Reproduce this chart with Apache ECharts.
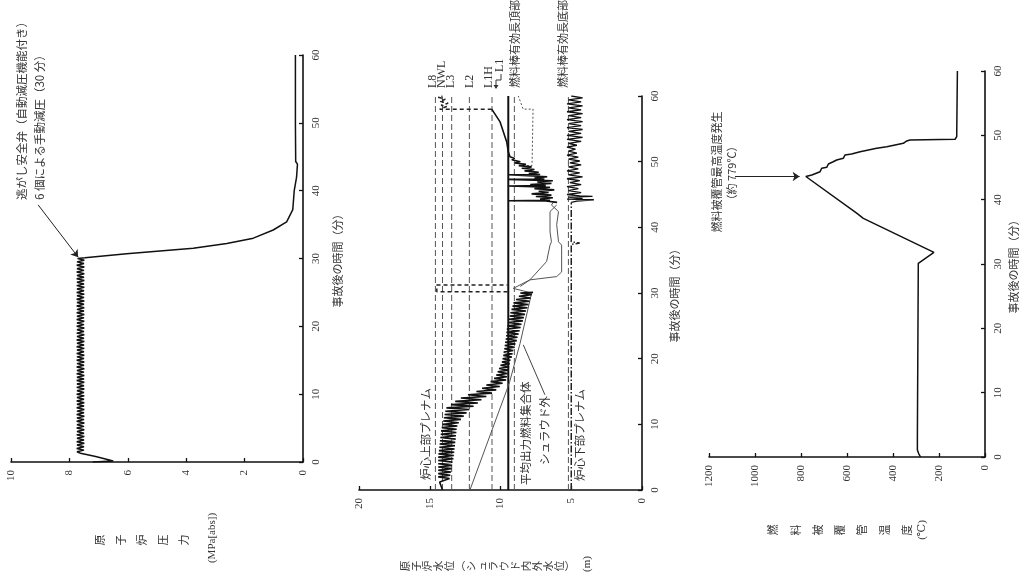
<!DOCTYPE html>
<html><head><meta charset="utf-8">
<script src="https://cdn.jsdelivr.net/npm/echarts/dist/echarts.min.js"></script>
<style>html,body{margin:0;padding:0;background:#fff}#c{width:1020px;height:584px}</style>
</head><body><div id="c"></div>
<script>
// ---------- data ----------
const timeRange = [0, 60];
const timeInterval = 10;
const pressureRange = [0, 10], pressureInterval = 2;
const levelRange = [0, 20], levelInterval = 5;
const tempRange = [0, 1200], tempInterval = 200;

// reactor pressure [time(min), MPa abs]
const pressure = [[0,7.2],[0.15,6.5],[0.35,6.55],[0.8,7.1],[1.3,7.62],
[1.5,7.74],[1.75,7.5],[2.0,7.75],[2.25,7.5],[2.5,7.74],[2.75,7.49],[3.0,7.75],[3.25,7.5],[3.5,7.74],[3.75,7.49],[4.0,7.75],[4.25,7.5],[4.5,7.74],[4.75,7.49],[5.0,7.75],[5.25,7.5],[5.5,7.74],[5.75,7.49],[6.0,7.75],[6.25,7.5],[6.5,7.74],[6.75,7.49],[7.0,7.75],[7.25,7.5],[7.5,7.74],[7.75,7.49],[8.0,7.75],[8.25,7.5],[8.5,7.74],[8.75,7.49],[9.0,7.75],[9.25,7.5],[9.5,7.74],[9.75,7.49],[10.0,7.75],[10.25,7.5],[10.5,7.74],[10.75,7.49],[11.0,7.75],[11.25,7.5],[11.5,7.74],[11.75,7.49],[12.0,7.75],[12.25,7.5],[12.5,7.74],[12.75,7.49],[13.0,7.75],[13.25,7.5],[13.5,7.74],[13.75,7.49],[14.0,7.75],[14.25,7.5],[14.5,7.74],[14.75,7.49],[15.0,7.75],[15.25,7.5],[15.5,7.74],[15.75,7.49],[16.0,7.75],[16.25,7.5],[16.5,7.74],[16.75,7.49],[17.0,7.75],[17.25,7.5],[17.5,7.74],[17.75,7.49],[18.0,7.75],[18.25,7.5],[18.5,7.74],[18.75,7.49],[19.0,7.75],[19.25,7.5],[19.5,7.74],[19.75,7.49],[20.0,7.75],[20.25,7.5],[20.5,7.74],[20.75,7.49],[21.0,7.75],[21.25,7.5],[21.5,7.74],[21.75,7.49],[22.0,7.75],[22.25,7.5],[22.5,7.74],[22.75,7.49],[23.0,7.75],[23.25,7.5],[23.5,7.74],[23.75,7.49],[24.0,7.75],[24.25,7.5],[24.5,7.74],[24.75,7.49],[25.0,7.75],[25.25,7.5],[25.5,7.74],[25.75,7.49],[26.0,7.75],[26.25,7.5],[26.5,7.74],[26.75,7.49],[27.0,7.75],[27.25,7.5],[27.5,7.74],[27.75,7.49],[28.0,7.75],[28.25,7.5],[28.5,7.74],[28.75,7.49],[29.0,7.75],[29.25,7.5],[29.5,7.74],[29.75,7.49],[30.0,7.72],
[30.1,7.47],[30.7,6.04],[31.1,4.9],[31.5,3.76],[32.2,2.61],[33.0,1.7],[34.2,1.02],[35.4,0.56],[37.2,0.35],[40.0,0.3],[42.0,0.22],[43.9,0.19],[44.3,0.25],[50,0.26],[55,0.26],[60,0.26]];

// water level, in-shroud (thick black) [time, m]
const levelInShroud = [[0,14.1],[0.6,14.2],[1.2,14.3],
[1.5,14.35],[1.75,13.6],[2.0,14.4],[2.25,13.55],[2.5,14.4],[2.75,13.5],[3.0,14.4],[3.25,13.45],[3.5,14.4],[3.75,13.42],[4.0,14.4],[4.25,13.4],[4.5,14.4],[4.75,13.33],[5.0,14.4],[5.25,13.3],[5.5,14.38],[5.75,13.27],[6.0,14.35],[6.25,13.25],[6.5,14.32],[6.75,13.22],[7.0,14.3],[7.25,13.2],[7.5,14.28],[7.75,13.17],[8.0,14.25],[8.25,13.15],[8.5,14.22],[8.75,13.12],[9.0,14.2],[9.25,13.1],[9.5,14.15],[9.75,13.05],[10.0,14.1],[10.25,12.95],[10.5,14.05],[10.75,12.8],[11.0,14.0],[11.25,12.6],[11.5,13.95],[11.75,12.4],[12.0,13.9],[12.25,12.2],[12.5,13.82],[12.75,11.9],[13.0,13.5],[13.25,11.6],[13.5,13.2],[13.75,11.35],[14.0,12.8],[14.25,11.0],[14.5,12.3],[14.75,10.6],[15.0,11.7],[15.25,10.3],[15.5,11.3],[15.75,10.05],[16.0,11.0],[16.25,9.85],[16.5,10.7],[16.75,9.6],[17.0,10.45],[17.25,9.55],[17.5,10.3],[17.75,9.5],[18.0,10.2],[18.25,9.45],[18.5,10.1],[18.75,9.4],[19.0,10.0],[19.25,9.35],[19.5,9.9],[19.75,9.3],[20.0,9.85],[20.25,9.2],[20.5,9.8],[20.75,9.15],[21.0,9.77],[21.25,9.1],[21.5,9.73],[21.75,9.0],[22.0,9.7],[22.25,8.95],[22.5,9.67],[22.75,8.85],[23.0,9.63],[23.25,8.8],[23.5,9.6],[23.75,8.72],[24.0,9.58],[24.25,8.65],[24.5,9.55],[24.75,8.58],[25.0,9.5],[25.25,8.52],[25.5,9.45],[25.75,8.42],[26.0,9.4],[26.25,8.35],[26.5,9.35],[26.75,8.27],[27.0,9.3],[27.25,8.2],[27.5,9.22],[27.75,8.1],[28.0,9.15],[28.25,8.02],[28.5,9.08],[28.75,7.95],[29.0,8.9],[29.25,7.88],[29.5,8.7],[29.75,7.8],[30.0,8.6],[30.1,7.7],
null,
[43.8,6.0],[44.0,6.8],[44.05,9.45],[44.1,6.5],[44.3,7.2],[44.5,6.3],[44.7,7.5],[44.9,6.4],[45.1,7.8],[45.3,6.6],[45.5,7.3],[45.7,6.2],[45.9,7.6],[46.1,6.5],[46.3,9.45],[46.35,6.8],[46.5,7.9],[46.7,6.4],[46.9,7.4],[47.1,6.3],[47.3,9.45],[47.35,6.9],[47.5,7.6],[47.7,6.7],[48.0,9.45],[48.05,7.2],[48.2,8.0],[48.4,7.3],[48.6,8.3],[48.8,7.6],[49.0,8.5],[49.2,7.8],[49.4,8.7],[49.6,8.2],[49.8,9.0],[50.0,8.6],[50.3,9.2],[50.5,9.0],[50.75,9.33],[51.5,9.45],[53,9.56],[56.1,10.04],[58,10.62]];

// average-power fuel assembly / shroud outside (thin grey)
const levelAssembly = [[0,14.1],[0.05,12.15],[15.2,9.56],[16.5,9.35]];
const levelShroudOut = [[16.5,9.35],[22.3,8.62],[30,7.8],[30.7,9.1],[32.0,7.92],[32.5,6.03],[33.2,5.68],[37.3,5.68],[37.8,5.9],[40.4,6.03],[42.4,5.9],[43.4,6.4],[44,6.2]];
const levelInner = [[31.0,8.6],[32.0,7.92],[34.8,6.74],[37.3,6.5],[37.8,6.4],[39.3,6.5],[42.4,6.5],[43.4,6.03]];
const levelLate = [[49.4,8.7],[49.4,7.77],[58,7.7],[58,8.4],[60,8.74]];

// wide-range indication (dashed)
const levelWide = [[30.2,9.5],[30.2,14.5],[31.2,14.5],[31.2,9.5],null,[58.0,10.62],[58.0,14.3],[58.1,14.3],[58.4,13.8],[58.6,14.2],[58.9,13.7],[59.2,14.3],[59.5,13.9],[59.8,14.4],[60,14.1]];

// lower plenum
const levelLowerPlenum = [[0,5.0],[37.4,5.0],[37.6,4.4],[37.8,5.0],[43.8,5.0]];
const levelLowerPlenumBoil = [[43.8,5.0],[44.0,4.6],[44.2,3.4],[44.3,5.3],[44.4,4.2],[44.6,5.2],[44.7,3.5],[44.8,4.4],[45.0,5.3],[45.3,4.3],[45.6,5.2],[45.9,4.5],[46.2,5.3],[46.5,4.3],[46.8,5.1],[47.1,4.4],[47.4,5.3],[47.7,4.2],[48.0,5.2],[48.3,4.4],[48.6,5.3],[48.9,4.5],[49.2,5.2],[49.5,4.3],[49.8,5.1],[50.1,4.4],[50.4,5.2],[50.7,4.5],[51.0,5.3],[51.3,4.6],[51.6,5.2],[51.9,4.7],[52.2,5.3],[52.5,4.6],[52.8,5.2],[53.1,4.3],[53.4,5.3],[53.7,4.2],[54.0,5.3],[54.3,4.3],[54.6,5.2],[54.9,4.2],[55.2,5.3],[55.5,4.3],[55.8,5.2],[56.1,4.2],[56.4,5.3],[56.7,4.3],[57.0,5.2],[57.3,4.2],[57.6,5.3],[57.9,4.3],[58.2,5.2],[58.5,4.2],[58.8,5.3],[59.1,4.3],[59.4,5.2],[59.7,4.2],[60,5.0]];

// reference levels [name, m, style]
const refNames  = ['L8','NWL','L3','L2','L1H','TAF','L1','BAF'];
const refLevels = [14.6, 14.1, 13.45, 12.2, 10.6, 9.45, 9.02, 5.2];
const refSolid  = [false,false,false,false,false,true,false,false];

// fuel cladding temperature [time, degC]
const cladTemp = [[0,280],[0.5,288],[1.1,294],[3.0,294],[3.2,291],[30.1,290],[31.8,222],[37.1,529],[37.9,558],[43.6,779],[43.84,753],[44.35,717],[44.88,710],[45.03,688],[45.55,681],[45.9,660],[46.17,645],[46.43,616],[46.95,609],[47.1,580],[47.46,543],[47.72,507],[47.98,471],[48.24,427],[48.5,391],[48.76,355],[49.12,340],[49.28,326],[49.39,130],[49.8,123],[60,120]];

// annotations
const srvNote = ['逃がし安全弁（自動減圧機能付き）','6 個による手動減圧（30 分）'];
const peakNote = ['燃料被覆管最高温度発生','（約 779℃）'];

// ---------- chart ----------
const JP = '"Noto Sans CJK JP", sans-serif';
const NUM = '"Liberation Serif", "DejaVu Serif", serif';
const TXT = '#333';

function valueAxis(gi, r, iv) {
  return {gridIndex: gi, type: 'value', min: r[0], max: r[1], interval: iv, inverse: true, position: 'bottom',
    axisLine: {show: true, onZero: false, lineStyle: {color: '#111', width: 1.6}},
    axisTick: {show: true, inside: true, length: 4, lineStyle: {color: '#111', width: 1.3}},
    axisLabel: {rotate: 90, margin: 8, color: TXT, fontFamily: NUM, fontSize: 11, formatter: v => String(v)},
    splitLine: {show: false}};
}
function timeAxis(gi) {
  return {gridIndex: gi, type: 'value', min: timeRange[0], max: timeRange[1], interval: timeInterval, position: 'right',
    axisLine: {show: true, onZero: false, lineStyle: {color: '#111', width: 1.6}},
    axisTick: {show: true, inside: true, length: 4, lineStyle: {color: '#111', width: 1.3}},
    axisLabel: {rotate: 90, margin: 8, color: TXT, fontFamily: NUM, fontSize: 11, formatter: v => String(v)},
    splitLine: {show: false}};
}
function line(gi, data, style, extra) {
  return Object.assign({type: 'line', xAxisIndex: gi, yAxisIndex: gi, data: data, showSymbol: false,
    symbol: 'none', connectNulls: false, silent: true, animation: false,
    lineStyle: Object.assign({color: '#111', width: 1.5}, style)}, extra || {});
}
function rtext(x, y, text, size, font, align, extra) {
  return Object.assign({type: 'text', x: x, y: y, rotation: Math.PI / 2, silent: true,
    style: {text: text, fill: TXT, font: size + 'px ' + font, align: align || 'center', verticalAlign: 'middle'}}, extra || {});
}
function stack(x, y, chars, gap, size) {
  return {type: 'text', x: x, y: y, rotation: Math.PI / 2, silent: true,
    style: {text: chars.join('\n'), fill: TXT, font: size + 'px ' + JP, lineHeight: gap, align: 'center', verticalAlign: 'middle'}};
}

const series = [];
// chart 1
series.push(line(0, pressure.map(d => [d[1], d[0]]), {width: 1.5}, {
  markLine: {silent: true, symbol: ['none', 'arrow'], symbolSize: 7, label: {show: false},
    lineStyle: {color: '#222', width: 1, type: 'solid'},
    data: [[{coord: [9.07, 37.9]}, {coord: [7.7, 30.2]}]]}}));
// chart 2 reference lines
refLevels.forEach((v, i) => {
  series.push(line(1, [[v, timeRange[0]], [v, timeRange[1]]],
    refSolid[i] ? {color: '#111', width: 2} : {color: '#555', width: 1, type: [6, 3]}));
});
const xy = a => a.map(d => d ? [d[1], d[0]] : [null, null]);
series.push(line(1, xy(levelLowerPlenum), {color: '#222', width: 1.5, type: [7, 2, 1.5, 2]}));
series.push(line(1, xy(levelLowerPlenumBoil), {color: '#111', width: 1.3}));
series.push(line(1, xy(levelAssembly), {color: '#555', width: 1}));
series.push(line(1, xy(levelShroudOut), {color: '#555', width: 1}, {
  markLine: {silent: true, symbol: ['none', 'none'], label: {show: false},
    lineStyle: {color: '#444', width: 1, type: 'solid'},
    data: [[{coord: [6.86, 14.5]}, {coord: [8.39, 22.1]}]]}}));
series.push(line(1, xy(levelInner), {color: '#555', width: 1}));
series.push(line(1, xy(levelLate), {color: '#555', width: 1, type: [2, 2]}));
series.push(line(1, xy(levelWide), {color: '#222', width: 1.5, type: [4, 3]}));
series.push(line(1, xy(levelInShroud), {color: '#111', width: 1.6}));
// chart 3
series.push(line(2, xy(cladTemp), {width: 1.5}, {
  markLine: {silent: true, symbol: ['none', 'arrow'], symbolSize: 7, label: {show: false},
    lineStyle: {color: '#222', width: 1, type: 'solid'},
    data: [[{coord: [1087, 43.6]}, {coord: [806, 43.6]}]]}}));

const graphic = [
  // chart 1
  rtext(22, 200, srvNote[0], 11.5, JP, 'left'),
  rtext(40, 200, srvNote[1], 11.5, JP, 'left'),
  rtext(338, 258, '事故後の時間（分）', 11, JP),
  stack(142, 540, ['原','子','炉','圧','力'], 21, 11),
  rtext(212, 538, '(MPa[abs])', 11, NUM),
  // chart 2
  rtext(433, 88, 'L8', 12, NUM, 'left'),
  rtext(442, 88, 'NWL', 12, NUM, 'left'),
  rtext(451, 88, 'L3', 12, NUM, 'left'),
  rtext(470, 88, 'L2', 12, NUM, 'left'),
  rtext(489, 88, 'L1H', 12, NUM, 'left'),
  rtext(500, 72, 'L1', 12, NUM, 'left'),
  {type: 'polyline', silent: true, shape: {points: [[501, 74], [501, 80], [496, 80], [496, 88]]}, style: {stroke: '#333', lineWidth: 1, fill: null}},
  {type: 'polygon', silent: true, shape: {points: [[493.5, 85], [498.5, 85], [496, 89]]}, style: {fill: '#333'}},
  rtext(515, 88, '燃料棒有効長頂部', 11, JP, 'left'),
  rtext(563, 88, '燃料棒有効長底部', 11, JP, 'left'),
  rtext(426, 480, '炉心上部プレナム', 11.5, JP, 'left'),
  rtext(526, 485, '平均出力燃料集合体', 11.5, JP, 'left'),
  rtext(545, 465, 'シュラウド外', 11.5, JP, 'left'),
  rtext(580, 481, '炉心下部プレナム', 11.5, JP, 'left'),
  rtext(675, 293, '事故後の時間（分）', 11, JP),
  stack(488, 566, ['原','子','炉','水','位','︵','シ','ュ','ラ','ウ','ド','内','外','水','位','︶'], 11, 10.5),
  rtext(587, 564, '(m)', 11, NUM),
  // chart 3
  rtext(717, 172, peakNote[0], 11, JP),
  rtext(732, 173, peakNote[1], 11, JP),
  rtext(1014, 264, '事故後の時間（分）', 11, JP),
  stack(840, 530, ['燃','料','被','覆','管','温','度'], 22.3, 11),
  rtext(922, 530, '(℃)', 11, NUM)
];

const chart = echarts.init(document.getElementById('c'), null, {renderer: 'canvas'});
chart.setOption({
  backgroundColor: '#fff',
  animation: false,
  grid: [
    {left: 11, top: 55, width: 292, height: 407},
    {left: 359, top: 96, width: 283, height: 394},
    {left: 709, top: 71, width: 276, height: 386}
  ],
  xAxis: [valueAxis(0, pressureRange, pressureInterval), valueAxis(1, levelRange, levelInterval), valueAxis(2, tempRange, tempInterval)],
  yAxis: [timeAxis(0), timeAxis(1), timeAxis(2)],
  series: series,
  graphic: graphic
});
</script></body></html>
